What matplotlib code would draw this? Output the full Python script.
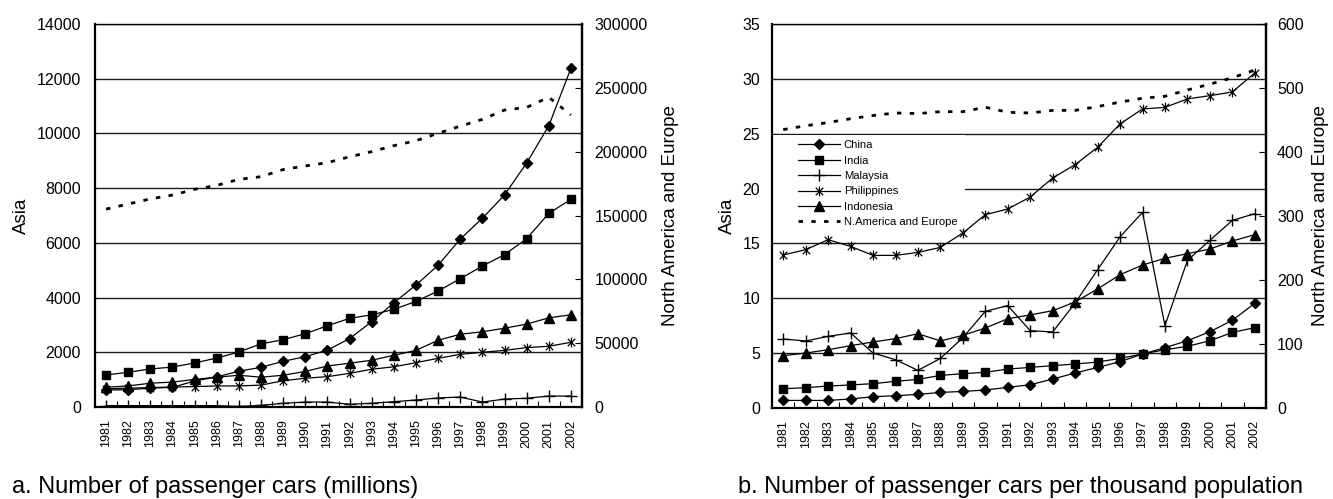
import matplotlib
matplotlib.use('Agg')
import matplotlib.pyplot as plt
from matplotlib.path import Path
from matplotlib.patches import Rectangle

plt.rcParams['font.family'] = ['Liberation Sans', 'DejaVu Sans']

years = [str(y) for y in range(1981, 2003)]

# ---- chart a: number of passenger cars ----
china_a = [620, 630, 690, 720, 950, 1100, 1310, 1450, 1670, 1840, 2080, 2500,
           3120, 3810, 4460, 5180, 6140, 6900, 7750, 8920, 10280, 12380]
india_a = [1170, 1270, 1390, 1460, 1610, 1790, 2010, 2310, 2460, 2680, 2970, 3240,
           3370, 3570, 3860, 4240, 4690, 5150, 5570, 6150, 7080, 7590]
malaysia_a = [50, 50, 50, 50, 50, 50, 20, 60, 135, 180, 180, 100,
              135, 195, 255, 330, 365, 180, 290, 320, 400, 400]
philippines_a = [660, 690, 710, 730, 745, 770, 770, 800, 960, 1050, 1110, 1230,
                 1380, 1470, 1620, 1780, 1925, 2000, 2070, 2170, 2220, 2365]
indonesia_a = [720, 770, 870, 910, 1010, 1090, 1160, 1090, 1160, 1300, 1500, 1600,
               1710, 1890, 2070, 2440, 2660, 2750, 2880, 3030, 3260, 3370]
naeu_a = [155000, 159000, 163000, 166000, 170500, 173600, 178300, 180400, 186000, 188800, 191400, 196000,
          200000, 204700, 208600, 214400, 220000, 225300, 232600, 234700, 242600, 228700]

# ---- chart b: per thousand population ----
china_b = [0.69, 0.69, 0.69, 0.82, 1.03, 1.12, 1.24, 1.42, 1.51, 1.64, 1.88, 2.12,
           2.64, 3.19, 3.70, 4.22, 4.92, 5.50, 6.13, 6.95, 7.99, 9.54]
india_b = [1.76, 1.85, 2.00, 2.10, 2.22, 2.43, 2.61, 2.97, 3.13, 3.25, 3.55, 3.70,
           3.86, 4.01, 4.19, 4.52, 4.92, 5.31, 5.62, 6.13, 6.89, 7.32]
malaysia_b = [6.29, 6.11, 6.53, 6.84, 5.01, 4.40, 3.43, 4.52, 6.41, 8.81, 9.33, 7.05,
              6.93, 9.57, 12.6, 15.6, 17.83, 7.5, 13.45, 15.28, 17.1, 17.71]
philippines_b = [13.95, 14.43, 15.34, 14.73, 13.91, 13.91, 14.18, 14.64, 15.95, 17.62, 18.14, 19.23,
                 20.97, 22.18, 23.76, 25.89, 27.26, 27.4, 28.17, 28.47, 28.8, 30.54]
indonesia_b = [4.77, 5.01, 5.31, 5.68, 6.02, 6.32, 6.77, 6.11, 6.62, 7.29, 8.14, 8.48,
               8.87, 9.66, 10.85, 12.15, 13.03, 13.64, 14.07, 14.49, 15.22, 15.8]
naeu_b = [435, 441, 446, 452, 457, 461, 460, 463, 463, 470, 462, 461,
          465, 465, 471, 478, 484, 487, 497, 506, 516, 528]

series_names = ['China', 'India', 'Malaysia', 'Philippines', 'Indonesia']
naeu_name = 'N.America and Europe'
captions = ['a. Number of passenger cars (millions)',
            'b. Number of passenger cars per thousand population']

star = Path([(-1, -1), (1, 1), (-1, 1), (1, -1), (0, -1.3), (0, 1.3)],
            [Path.MOVETO, Path.LINETO] * 3)
styles = [dict(marker='D', ms=5, mfc='black', mec='black'),
          dict(marker='s', ms=5.5, mfc='black', mec='black'),
          dict(marker='+', ms=8, mew=1.0, mec='black'),
          dict(marker=star, ms=7, mew=0.9, mec='black', mfc='none'),
          dict(marker='^', ms=6.5, mfc='black', mec='black')]

fig = plt.figure(figsize=(13.33, 4.99), dpi=100)

TICK_FS = 11.5
LAB_FS = 13.5


def make_chart(rect, asia, naeu, ymax, ystep, rmax, rstep, caption, capx, legend,
               lpad, rpad, llabpad, rlabpad):
    ax = fig.add_axes(rect)
    x = list(range(len(years)))
    ax.set_xlim(-0.5, len(years) - 0.5)
    ax.set_ylim(0, ymax)
    ax.set_yticks(range(0, ymax + 1, ystep))
    ax.yaxis.grid(True, color='#1a1a1a', lw=1.0, zorder=0.5)
    ax.set_axisbelow(True)
    ax.set_xticks(x)
    ax.set_xticklabels(years, rotation=90, fontsize=9)
    ax.set_xticks([i + 0.5 for i in range(len(years) - 1)], minor=True)
    for s in ['left', 'right', 'bottom']:
        ax.spines[s].set_linewidth(1.6)
    ax.spines['top'].set_linewidth(1.0)
    handles = []
    for vals, name, st in zip(asia, series_names, styles):
        h, = ax.plot(x, vals, color='black', lw=0.9, label=name, zorder=3, **st)
        handles.append(h)
    ax2 = ax.twinx()
    ax2.set_ylim(0, rmax)
    ax2.set_yticks(range(0, rmax + 1, rstep))
    ax2.tick_params(axis='y', direction='in', length=5, width=0.8, pad=rpad,
                    labelsize=TICK_FS)
    ax2.spines['right'].set_linewidth(1.6)
    for s in ['left', 'bottom', 'top']:
        ax2.spines[s].set_visible(False)
    ax2.set_ylabel('North America and Europe', fontsize=LAB_FS, labelpad=rlabpad)
    h2, = ax2.plot(x, naeu, color='black', lw=2.0, ls=(0, (1.6, 3.0)), label=naeu_name)
    handles.append(h2)

    ax.tick_params(axis='y', which='both', left=False, right=False, length=0,
                   pad=lpad, labelsize=TICK_FS)
    ax.tick_params(axis='x', which='major', length=0, pad=9)
    ax.tick_params(axis='x', which='minor', direction='in', length=4, width=0.8)
    ax.set_ylabel('Asia', fontsize=LAB_FS, labelpad=llabpad)

    if legend:
        ax.add_patch(Rectangle((0.003, 0.452), 0.387, 0.258, transform=ax.transAxes,
                               facecolor='white', edgecolor='none', zorder=1))
        ax.legend(handles=handles, loc='upper left', bbox_to_anchor=(0.044, 0.709),
                  borderaxespad=0, frameon=False, fontsize=8.1, handlelength=3.75,
                  handletextpad=0.3, labelspacing=0.48, borderpad=0.4)
    fig.text(capx, 6 / 499, caption, fontsize=17, ha='left', va='baseline')
    return ax, ax2


make_chart([95 / 1333, 92 / 499, 487 / 1333, 383 / 499], [china_a, india_a, malaysia_a,
           philippines_a, indonesia_a], naeu_a, 14000, 2000, 300000, 50000,
           captions[0], 12 / 1333, False, 10, 9, 5, 10)
make_chart([772 / 1333, 91 / 499, 494 / 1333, 384 / 499], [china_b, india_b, malaysia_b,
           philippines_b, indonesia_b], naeu_b, 35, 5, 600, 100,
           captions[1], 738 / 1333, True, 8.5, 8, 5, 6)

fig.savefig('out.png', dpi=100)
